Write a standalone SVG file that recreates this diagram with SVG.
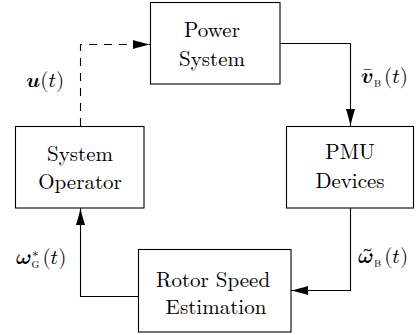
<svg xmlns="http://www.w3.org/2000/svg" width="419" height="335" viewBox="0 0 419 335">
  <style>
    .box { fill: #fff; stroke: #000; stroke-width: 1.1; }
    .wire { fill: none; stroke: #000; stroke-width: 1.1; }
    .dash { stroke-dasharray: 8 7; }
  </style>
  <defs>
    <marker id="arrow" markerUnits="userSpaceOnUse" markerWidth="18" markerHeight="10" viewBox="-17 -5 18 10" refX="0" refY="0" orient="auto">
      <path d="M0,0 C-6,-1.2 -12,-3 -17,-4.5 L-17,4.5 C-12,3 -6,1.2 0,0 Z" fill="#000"/>
    </marker>
  </defs>

  <g id="connectors">
    <!-- Operator -> Power System (dashed control input) -->
    <path class="wire dash" d="M80.5,126 V44.5 H150" marker-end="url(#arrow)"/>
    <!-- Power System -> PMU -->
    <path class="wire" d="M280,43.5 H350.5 V126" marker-end="url(#arrow)"/>
    <!-- PMU -> Rotor Speed Estimation -->
    <path class="wire" d="M350.5,208 V290.5 H291" marker-end="url(#arrow)"/>
    <!-- Rotor Speed Estimation -> Operator -->
    <path class="wire" d="M138,296.5 H80.5 V208" marker-end="url(#arrow)"/>
  </g>

  <g id="power-system">
    <rect class="box" x="150.5" y="2.5" width="129.5" height="81.5"/>
    <text font-family="Latin Modern Roman, Liberation Serif, serif" font-size="21" text-anchor="middle" x="212" y="37">Power</text>
    <text font-family="Latin Modern Roman, Liberation Serif, serif" font-size="21" text-anchor="middle" x="212" y="66">System</text>
  </g>

  <g id="pmu-devices">
    <rect class="box" x="286.5" y="126.5" width="127" height="81.5"/>
    <text font-family="Latin Modern Roman, Liberation Serif, serif" font-size="21" text-anchor="middle" x="350" y="159">PMU</text>
    <text font-family="Latin Modern Roman, Liberation Serif, serif" font-size="21" text-anchor="middle" x="350" y="188">Devices</text>
  </g>

  <g id="rotor-speed-estimation">
    <rect class="box" x="138.5" y="249.5" width="152.5" height="82.5"/>
    <text font-family="Latin Modern Roman, Liberation Serif, serif" font-size="21" text-anchor="middle" x="213" y="287">Rotor Speed</text>
    <text font-family="Latin Modern Roman, Liberation Serif, serif" font-size="21" text-anchor="middle" x="216" y="314">Estimation</text>
  </g>

  <g id="system-operator">
    <rect class="box" x="15.5" y="126.5" width="128.5" height="81.5"/>
    <text font-family="Latin Modern Roman, Liberation Serif, serif" font-size="21" text-anchor="middle" x="80" y="161">System</text>
    <text font-family="Latin Modern Roman, Liberation Serif, serif" font-size="21" text-anchor="middle" x="80" y="189">Operator</text>
  </g>

  <g id="labels">
    <!-- u(t) -->
    <text font-family="Latin Modern Math, Latin Modern Roman, DejaVu Serif, serif" font-size="21" x="26" y="87">𝒖(𝑡)</text>
    <!-- bar v_B(t) -->
    <text font-family="Latin Modern Math, Latin Modern Roman, DejaVu Serif, serif" font-size="21" x="361" y="83">𝒗̄<tspan font-family="Latin Modern Roman, serif" font-size="10" dy="4" dx="1">B</tspan><tspan dy="-4" dx="3">(𝑡)</tspan></text>
    <!-- tilde omega_B(t) -->
    <text font-family="Latin Modern Math, Latin Modern Roman, DejaVu Serif, serif" font-size="21" x="358" y="263">𝝎̃<tspan font-family="Latin Modern Roman, serif" font-size="10" dy="4" dx="1">B</tspan><tspan dy="-4" dx="3">(𝑡)</tspan></text>
    <!-- omega*_G(t) -->
    <text font-family="Latin Modern Math, Latin Modern Roman, DejaVu Serif, serif" font-size="21" x="16" y="264">𝝎<tspan font-size="13" dy="-7" dx="1">∗</tspan><tspan font-family="Latin Modern Roman, serif" font-size="10" dy="11" dx="-7">G</tspan><tspan dy="-4" dx="3">(𝑡)</tspan></text>
  </g>
</svg>
